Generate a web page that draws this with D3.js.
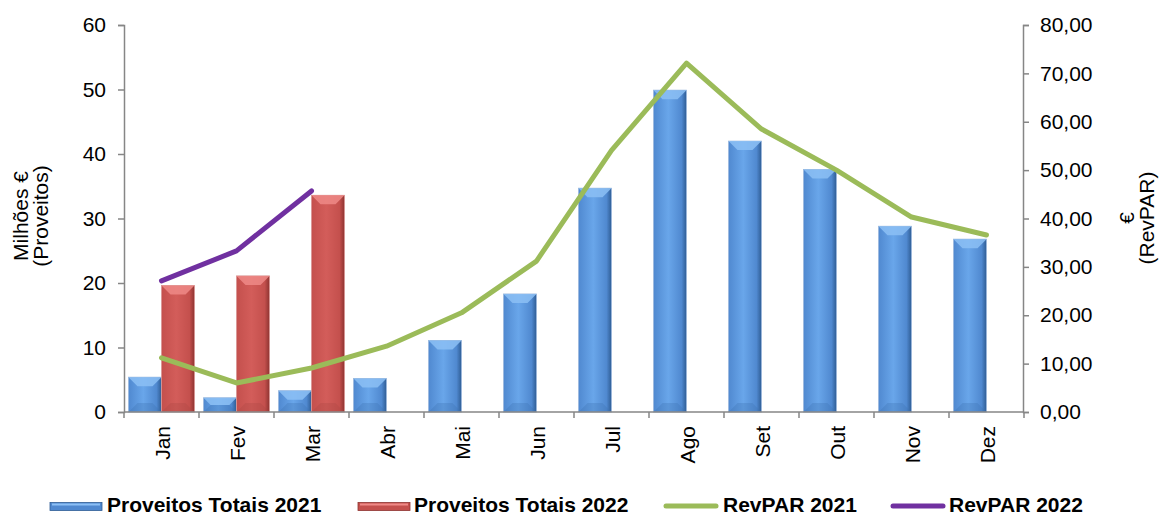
<!DOCTYPE html>
<html>
<head>
<meta charset="utf-8">
<script src="https://cdn.jsdelivr.net/npm/d3@7"></script>
<style>
  body { margin: 0; background: #fff; }
  svg { display: block; font-family: "Liberation Sans", Arial, sans-serif; }
</style>
</head>
<body>
<div id="chart"></div>
<script>
// Data
var months = ['Jan', 'Fev', 'Mar', 'Abr', 'Mai', 'Jun', 'Jul', 'Ago', 'Set', 'Out', 'Nov', 'Dez'];
var proveitos2021 = [5.4, 2.2, 3.3, 5.2, 11.1, 18.3, 34.7, 49.9, 42.0, 37.6, 28.8, 26.8];
var proveitos2022 = [19.6, 21.1, 33.6];
var revpar2021 = [11.2, 6.0, 9.1, 13.6, 20.5, 31.2, 54.1, 72.1, 58.5, 50.0, 40.3, 36.6];
var revpar2022 = [27.1, 33.3, 45.7];
var leftTicks = [0, 10, 20, 30, 40, 50, 60];
var rightTicks = [0, 10, 20, 30, 40, 50, 60, 70, 80];
var seriesNames = ['Proveitos Totais 2021', 'Proveitos Totais 2022', 'RevPAR 2021', 'RevPAR 2022'];

var W = 1163, H = 515;
var plot = {left: 124, right: 1024, top: 25, bottom: 412};
var axisColor = '#868686';

var svg = d3.select('#chart').append('svg')
    .attr('width', W)
    .attr('height', H);

var defs = svg.append('defs');
function barGradient(id, dark, mid, light) {
    var g = defs.append('linearGradient').attr('id', id)
        .attr('x1', '0%').attr('x2', '100%').attr('y1', '0%').attr('y2', '0%');
    g.append('stop').attr('offset', '0%').attr('stop-color', mid);
    g.append('stop').attr('offset', '45%').attr('stop-color', light);
    g.append('stop').attr('offset', '85%').attr('stop-color', mid);
    g.append('stop').attr('offset', '100%').attr('stop-color', dark);
}
barGradient('gBlue', '#2f5d94', '#5089d0', '#69a6ea');
barGradient('gRed', '#8e3431', '#c4504d', '#d35d5a');

var x = d3.scaleBand()
    .domain(months)
    .range([plot.left, plot.right])
    .paddingInner(0)
    .paddingOuter(0);
var xSub = d3.scaleBand()
    .domain([0, 1])
    .range([0, x.bandwidth()])
    .paddingOuter(0.136)
    .paddingInner(0);
var yL = d3.scaleLinear().domain([0, 60]).range([plot.bottom, plot.top]);
var yR = d3.scaleLinear().domain([0, 80]).range([plot.bottom, plot.top]);

// Bars
function drawBars(values, idx, fill, topC, botC, edge) {
    var g = svg.append('g');
    var w = xSub.bandwidth();
    values.forEach(function (v, i) {
        var bx = x(months[i]) + xSub(idx);
        var by = yL(v);
        var bh = plot.bottom - by;
        var b = Math.min(9, bh / 2, w / 2);
        g.append('rect')
            .attr('x', bx).attr('y', by)
            .attr('width', w).attr('height', bh)
            .attr('fill', 'url(#' + fill + ')')
            .attr('stroke', edge).attr('stroke-width', 0.8);
        g.append('polygon')
            .attr('points', [[bx, by], [bx + w, by], [bx + w - b, by + b], [bx + b, by + b]].join(' '))
            .attr('fill', topC).attr('opacity', 0.85);
        g.append('polygon')
            .attr('points', [[bx, by + bh], [bx + w, by + bh], [bx + w - b, by + bh - b], [bx + b, by + bh - b]].join(' '))
            .attr('fill', botC).attr('opacity', 0.3);
    });
}
drawBars(proveitos2021, 0, 'gBlue', '#8cc0f5', '#3d6fae', '#9db9dc');
drawBars(proveitos2022, 1, 'gRed', '#ef8a87', '#a84441', '#d99593');

// Lines
var line = d3.line()
    .x(function (d, i) { return x(months[i]) + x.bandwidth() / 2; })
    .y(function (d) { return yR(d); });
svg.append('path')
    .datum(revpar2021)
    .attr('d', line)
    .attr('fill', 'none')
    .attr('stroke', '#9bbb59')
    .attr('stroke-width', 5)
    .attr('stroke-linejoin', 'round')
    .attr('stroke-linecap', 'round');
svg.append('path')
    .datum(revpar2022)
    .attr('d', line)
    .attr('fill', 'none')
    .attr('stroke', '#7030a0')
    .attr('stroke-width', 5)
    .attr('stroke-linejoin', 'round')
    .attr('stroke-linecap', 'round');

// Axes
function styleAxis(g) {
    g.selectAll('path, line').attr('stroke', axisColor).attr('stroke-width', 1.5);
    g.selectAll('text').attr('fill', '#000').style('font-size', '21px');
}
svg.append('g')
    .attr('transform', 'translate(' + plot.left + ',0)')
    .call(d3.axisLeft(yL).tickValues(leftTicks).tickSize(6).tickSizeOuter(6).tickPadding(12))
    .call(styleAxis);

var fmt = function (d) { return d3.format('.2f')(d).replace('.', ','); };
svg.append('g')
    .attr('transform', 'translate(' + 1023 + ',0)')
    .call(d3.axisRight(yR).tickValues(rightTicks).tickFormat(fmt).tickSize(6).tickSizeOuter(6).tickPadding(11))
    .call(styleAxis);

// Bottom axis: ticks at band boundaries
var bottom = svg.append('g');
bottom.append('line')
    .attr('x1', plot.left).attr('x2', plot.right)
    .attr('y1', plot.bottom).attr('y2', plot.bottom)
    .attr('stroke', axisColor).attr('stroke-width', 1.5);
months.concat(['end']).forEach(function (m, i) {
    var tx = i < months.length ? x(m) : plot.right;
    bottom.append('line')
        .attr('x1', tx).attr('x2', tx)
        .attr('y1', plot.bottom).attr('y2', plot.bottom + 6)
        .attr('stroke', axisColor).attr('stroke-width', 1.5);
});
bottom.selectAll('text.month')
    .data(months)
    .enter().append('text')
    .attr('class', 'month')
    .attr('transform', function (d) {
        return 'translate(' + (x(d) + x.bandwidth() / 2 + 8) + ',' + (plot.bottom + 14) + ') rotate(-90)';
    })
    .attr('text-anchor', 'end')
    .style('font-size', '21px')
    .text(function (d) { return d; });

// Axis titles
var lt = svg.append('text')
    .attr('transform', 'translate(28,216) rotate(-90)')
    .attr('text-anchor', 'middle')
    .style('font-size', '21px');
lt.append('tspan').attr('x', 0).attr('dy', 0).text('Milhões €');
lt.append('tspan').attr('x', 0).attr('dy', 20).text('(Proveitos)');

var rt = svg.append('text')
    .attr('transform', 'translate(1134,218) rotate(-90)')
    .attr('text-anchor', 'middle')
    .style('font-size', '21px');
rt.append('tspan').attr('x', 0).attr('dy', 0).text('€');
rt.append('tspan').attr('x', 0).attr('dy', 20).text('(RevPAR)');

// Legend
var legendMark = [50, 358, 663, 890];
var legendText = [107, 414, 723, 949];
var legendY = 506;
var legend = svg.append('g');
seriesNames.forEach(function (name, i) {
    var lx = legendMark[i];
    if (i < 2) {
        legend.append('rect')
            .attr('x', lx).attr('y', legendY - 3.5)
            .attr('width', 52).attr('height', 8)
            .attr('fill', i === 0 ? '#5089d0' : '#c4504d')
            .attr('stroke', i === 0 ? '#2f5d94' : '#8e3431')
            .attr('stroke-width', 0.8);
        legend.append('rect')
            .attr('x', lx + 2).attr('y', legendY - 2.5)
            .attr('width', 48).attr('height', 2)
            .attr('fill', i === 0 ? '#8cc0f5' : '#ef8a87');
    } else {
        legend.append('line')
            .attr('x1', lx + 3).attr('x2', lx + 53)
            .attr('y1', legendY).attr('y2', legendY)
            .attr('stroke', i === 2 ? '#9bbb59' : '#7030a0')
            .attr('stroke-width', 5)
            .attr('stroke-linecap', 'round');
    }
    legend.append('text')
        .attr('x', legendText[i])
        .attr('y', legendY + 6)
        .style('font-size', '21px')
        .style('font-weight', 'bold')
        .text(name);
});
</script>
</body>
</html>
